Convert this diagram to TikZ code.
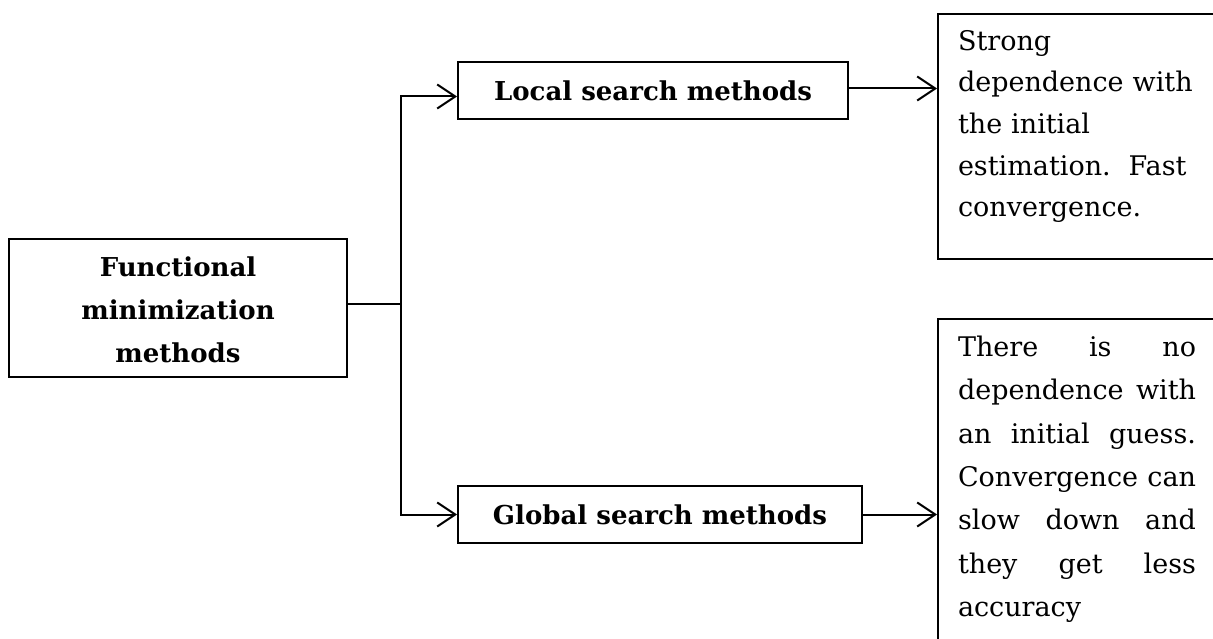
\documentclass[tikz,border=0pt]{standalone}
\usepackage{fontspec}
\setmainfont{DejaVu Serif}
\usetikzlibrary{arrows.meta}
\newcommand{\jline}[1]{\leavevmode\hbox to 238pt{#1}}
\tikzset{
  box/.style={draw, line width=2pt, rectangle, inner sep=0pt},
  conn/.style={line width=2pt},
  arr/.style={line width=2pt, -{Straight Barb[length=18pt,width=24pt,line width=2pt]}},
  boldtxt/.style={font=\fontsize{26}{43}\selectfont\bfseries, align=center},
  desc/.style={draw, line width=2pt, rectangle, anchor=north west, inner xsep=20pt, text width=240pt, align=left}
}
\begin{document}
\begin{tikzpicture}[x=1pt,y=-1pt]
\useasboundingbox[fill=white] (0,0) rectangle (1213,639);
\node[box, boldtxt, minimum width=338pt, minimum height=138pt] (func) at (178,308) {\rule{0pt}{24pt}Functional\\minimization\\methods};
\node[box, boldtxt, minimum width=390pt, minimum height=57pt] (local) at (653,90.5) {Local search methods};
\node[box, boldtxt, minimum width=404pt, minimum height=57pt] (global) at (660,514.5) {Global search methods};
\node[desc, font=\fontsize{27}{41.7}\selectfont, minimum height=245pt] (d1) at (937,13) {Strong\\dependence with\\the initial\\estimation.\ \ Fast\\convergence.\rule[-26pt]{0pt}{26pt}};
\node[desc, font=\fontsize{27}{43.3}\selectfont, inner ysep=17pt] (d2) at (937,318) {\jline{There\hfill is\hfill no}\\\jline{dependence\hfill with}\\\jline{an\hfill initial\hfill guess.}\\\jline{Convergence\hfill can}\\\jline{slow\hfill down\hfill and}\\\jline{they\hfill get\hfill less}\\accuracy\rule[-24pt]{0pt}{24pt}};
\coordinate (j) at (401,304);
\draw[conn] (func.east |- j) -- (j);
\draw[arr] (j) |- ([yshift=-6pt]local.west);
\draw[arr] (j) |- (global.west);
\draw[arr] ([yshift=2pt]local.east) -- ([yshift=2pt]local.east -| d1.west);
\draw[arr] (global.east) -- (global.east -| d2.west);
\end{tikzpicture}
\end{document}
